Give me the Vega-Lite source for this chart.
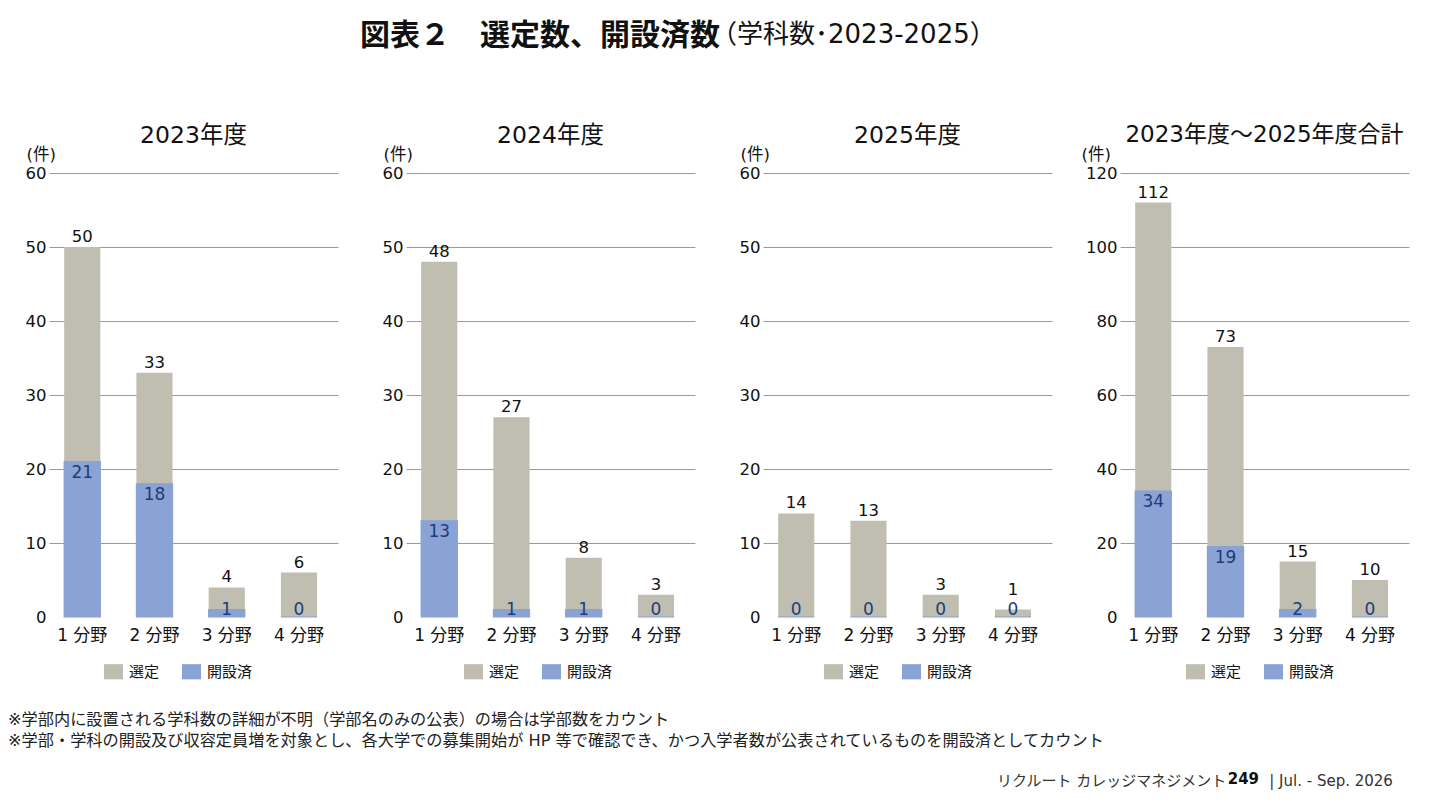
{
  "$schema": "https://vega.github.io/schema/vega-lite/v6.json",
  "background": "white",
  "padding": {"left": 8, "top": 20, "right": 20, "bottom": 6},
  "config": {
    "font": "DejaVu Sans, Noto Sans CJK JP",
    "view": {"stroke": null},
    "title": {"fontSize": 23.5, "fontWeight": "normal", "color": "#111", "offset": -1}
  },
  "title": {
    "text": "図表２　選定数、開設済数",
    "subtitle": "\u200B\u3000\u3000\u3000\u3000\u3000\u3000\u3000\u3000\u3000\u3000\u3000\u3000\u3000\u3000（学科数･2023-2025）",
    "anchor": "start",
    "frame": "bounds",
    "dx": 352,
    "fontSize": 30,
    "fontWeight": "bold",
    "color": "#111",
    "subtitleFontSize": 26,
    "subtitleFontWeight": "normal",
    "subtitleColor": "#111",
    "subtitlePadding": -29,
    "offset": 73
  },
  "data": {
    "values": [
      {"年度": "2023年度", "分野": "1 分野", "系列": "選定", "件数": 50},
      {"年度": "2023年度", "分野": "1 分野", "系列": "開設済", "件数": 21},
      {"年度": "2023年度", "分野": "2 分野", "系列": "選定", "件数": 33},
      {"年度": "2023年度", "分野": "2 分野", "系列": "開設済", "件数": 18},
      {"年度": "2023年度", "分野": "3 分野", "系列": "選定", "件数": 4},
      {"年度": "2023年度", "分野": "3 分野", "系列": "開設済", "件数": 1},
      {"年度": "2023年度", "分野": "4 分野", "系列": "選定", "件数": 6},
      {"年度": "2023年度", "分野": "4 分野", "系列": "開設済", "件数": 0},
      {"年度": "2024年度", "分野": "1 分野", "系列": "選定", "件数": 48},
      {"年度": "2024年度", "分野": "1 分野", "系列": "開設済", "件数": 13},
      {"年度": "2024年度", "分野": "2 分野", "系列": "選定", "件数": 27},
      {"年度": "2024年度", "分野": "2 分野", "系列": "開設済", "件数": 1},
      {"年度": "2024年度", "分野": "3 分野", "系列": "選定", "件数": 8},
      {"年度": "2024年度", "分野": "3 分野", "系列": "開設済", "件数": 1},
      {"年度": "2024年度", "分野": "4 分野", "系列": "選定", "件数": 3},
      {"年度": "2024年度", "分野": "4 分野", "系列": "開設済", "件数": 0},
      {"年度": "2025年度", "分野": "1 分野", "系列": "選定", "件数": 14},
      {"年度": "2025年度", "分野": "1 分野", "系列": "開設済", "件数": 0},
      {"年度": "2025年度", "分野": "2 分野", "系列": "選定", "件数": 13},
      {"年度": "2025年度", "分野": "2 分野", "系列": "開設済", "件数": 0},
      {"年度": "2025年度", "分野": "3 分野", "系列": "選定", "件数": 3},
      {"年度": "2025年度", "分野": "3 分野", "系列": "開設済", "件数": 0},
      {"年度": "2025年度", "分野": "4 分野", "系列": "選定", "件数": 1},
      {"年度": "2025年度", "分野": "4 分野", "系列": "開設済", "件数": 0},
      {"年度": "合計", "分野": "1 分野", "系列": "選定", "件数": 112},
      {"年度": "合計", "分野": "1 分野", "系列": "開設済", "件数": 34},
      {"年度": "合計", "分野": "2 分野", "系列": "選定", "件数": 73},
      {"年度": "合計", "分野": "2 分野", "系列": "開設済", "件数": 19},
      {"年度": "合計", "分野": "3 分野", "系列": "選定", "件数": 15},
      {"年度": "合計", "分野": "3 分野", "系列": "開設済", "件数": 2},
      {"年度": "合計", "分野": "4 分野", "系列": "選定", "件数": 10},
      {"年度": "合計", "分野": "4 分野", "系列": "開設済", "件数": 0}
    ]
  },
  "vconcat": [
    {
      "title": {
        "text": "リクルート カレッジマネジメント \u2007\u2007\u2007\u2008 | Jul. - Sep. 2026",
        "subtitle": "\u200B\u3000\u3000\u3000\u3000\u3000\u3000\u3000\u3000\u3000\u3000\u3000\u3000\u3000\u3000\u3000\u2008249",
        "orient": "bottom",
        "anchor": "start",
        "frame": "bounds",
        "dx": 989,
        "fontSize": 15,
        "fontWeight": "normal",
        "color": "#333",
        "subtitleFontSize": 15,
        "subtitleFontWeight": "bold",
        "subtitleColor": "#111",
        "subtitlePadding": -17.3,
        "offset": 25
      },
      "vconcat": [
        {
          "title": {
            "text": [
              "※学部内に設置される学科数の詳細が不明（学部名のみの公表）の場合は学部数をカウント",
              "※学部・学科の開設及び収容定員増を対象とし、各大学での募集開始が HP 等で確認でき、かつ入学者数が公表されているものを開設済としてカウント"
            ],
            "orient": "bottom",
            "anchor": "start",
            "frame": "bounds",
            "dx": -17,
            "fontSize": 16.2,
            "lineHeight": 21,
            "fontWeight": "normal",
            "color": "#222",
            "offset": 32
          },
          "bounds": "flush",
          "spacing": 68,
          "resolve": {"legend": {"color": "independent"}},
          "hconcat": [
            {
              "width": 289,
              "height": 444,
              "title": {"text": "2023年度"},
              "transform": [{"filter": "datum['年度'] === '2023年度'"}],
              "encoding": {
                "x": {
                  "field": "分野", "type": "nominal", "sort": null,
                  "scale": {"paddingInner": 0.5, "paddingOuter": 0.25, "align": 0.42},
                  "axis": {"title": null, "labelAngle": 0, "domain": false, "ticks": false, "labelPadding": 10, "labelFontSize": 17, "labelColor": "#111"}
                },
                "y": {
                  "field": "件数", "type": "quantitative", "stack": null,
                  "scale": {"domain": [0, 60]},
                  "axis": {
                    "title": "(件)", "titleAngle": 0, "titleAlign": "left", "titleBaseline": "middle",
                    "titleX": -23, "titleY": -19, "titleFontSize": 16.5, "titleFontWeight": "normal", "titleColor": "#111",
                    "values": [0, 10, 20, 30, 40, 50, 60],
                    "domain": false, "ticks": false, "labelPadding": 3, "labelFontSize": 16.5, "labelColor": "#111",
                    "gridColor": {"condition": {"test": "datum.value === 0", "value": "transparent"}, "value": "#9a9a9a"},
                    "gridWidth": 1.2
                  }
                }
              },
              "layer": [
                {
                  "transform": [{"filter": "datum['系列'] === '選定'"}],
                  "mark": {"type": "bar"},
                  "encoding": {"color": {"field": "系列", "type": "nominal", "scale": {"domain": ["選定", "開設済"], "range": ["#bfbeb0", "#8aa2d4"]},
                    "legend": {"orient": "none", "legendX": 55, "legendY": 489, "direction": "horizontal", "title": null, "symbolType": "M-1,-0.8H1V0.8H-1Z", "symbolSize": 361, "symbolStrokeWidth": 0, "labelFontSize": 15, "labelColor": "#111", "labelOffset": 6, "columnPadding": 22}}}
                },
                {
                  "transform": [{"filter": "datum['系列'] === '開設済'"}],
                  "mark": {"type": "bar", "stroke": "#8aa2d4", "strokeWidth": 1.2},
                  "encoding": {"color": {"field": "系列", "type": "nominal", "scale": {"domain": ["選定", "開設済"], "range": ["#bfbeb0", "#8aa2d4"]},
                    "legend": {"orient": "none", "legendX": 55, "legendY": 489, "direction": "horizontal", "title": null, "symbolType": "M-1,-0.8H1V0.8H-1Z", "symbolSize": 361, "symbolStrokeWidth": 0, "labelFontSize": 15, "labelColor": "#111", "labelOffset": 6, "columnPadding": 22}}}
                },
                {
                  "transform": [
                    {"filter": "datum['系列'] === '選定'"},
                    {"calculate": "max(datum['件数'], 2.3)", "as": "ラベル位置"}
                  ],
                  "mark": {"type": "text", "baseline": "bottom", "dy": -2, "fontSize": 16.5, "color": "#111"},
                  "encoding": {
                    "y": {"field": "ラベル位置", "type": "quantitative"},
                    "text": {"field": "件数", "type": "quantitative"}
                  }
                },
                {
                  "transform": [
                    {"filter": "datum['系列'] === '開設済'"},
                    {"calculate": "max(datum['件数'] - 1.55, 0.95)", "as": "ラベル位置"}
                  ],
                  "mark": {"type": "text", "baseline": "middle", "fontSize": 17, "color": "#1d3c7d"},
                  "encoding": {
                    "y": {"field": "ラベル位置", "type": "quantitative"},
                    "text": {"field": "件数", "type": "quantitative"}
                  }
                }
              ]
            },
            {
              "width": 289,
              "height": 444,
              "title": {"text": "2024年度"},
              "transform": [{"filter": "datum['年度'] === '2024年度'"}],
              "encoding": {
                "x": {
                  "field": "分野", "type": "nominal", "sort": null,
                  "scale": {"paddingInner": 0.5, "paddingOuter": 0.25, "align": 0.42},
                  "axis": {"title": null, "labelAngle": 0, "domain": false, "ticks": false, "labelPadding": 10, "labelFontSize": 17, "labelColor": "#111"}
                },
                "y": {
                  "field": "件数", "type": "quantitative", "stack": null,
                  "scale": {"domain": [0, 60]},
                  "axis": {
                    "title": "(件)", "titleAngle": 0, "titleAlign": "left", "titleBaseline": "middle",
                    "titleX": -23, "titleY": -19, "titleFontSize": 16.5, "titleFontWeight": "normal", "titleColor": "#111",
                    "values": [0, 10, 20, 30, 40, 50, 60],
                    "domain": false, "ticks": false, "labelPadding": 3, "labelFontSize": 16.5, "labelColor": "#111",
                    "gridColor": {"condition": {"test": "datum.value === 0", "value": "transparent"}, "value": "#9a9a9a"},
                    "gridWidth": 1.2
                  }
                }
              },
              "layer": [
                {
                  "transform": [{"filter": "datum['系列'] === '選定'"}],
                  "mark": {"type": "bar"},
                  "encoding": {"color": {"field": "系列", "type": "nominal", "scale": {"domain": ["選定", "開設済"], "range": ["#bfbeb0", "#8aa2d4"]},
                    "legend": {"orient": "none", "legendX": 58, "legendY": 489, "direction": "horizontal", "title": null, "symbolType": "M-1,-0.8H1V0.8H-1Z", "symbolSize": 361, "symbolStrokeWidth": 0, "labelFontSize": 15, "labelColor": "#111", "labelOffset": 6, "columnPadding": 22}}}
                },
                {
                  "transform": [{"filter": "datum['系列'] === '開設済'"}],
                  "mark": {"type": "bar", "stroke": "#8aa2d4", "strokeWidth": 1.2},
                  "encoding": {"color": {"field": "系列", "type": "nominal", "scale": {"domain": ["選定", "開設済"], "range": ["#bfbeb0", "#8aa2d4"]},
                    "legend": {"orient": "none", "legendX": 58, "legendY": 489, "direction": "horizontal", "title": null, "symbolType": "M-1,-0.8H1V0.8H-1Z", "symbolSize": 361, "symbolStrokeWidth": 0, "labelFontSize": 15, "labelColor": "#111", "labelOffset": 6, "columnPadding": 22}}}
                },
                {
                  "transform": [
                    {"filter": "datum['系列'] === '選定'"},
                    {"calculate": "max(datum['件数'], 2.3)", "as": "ラベル位置"}
                  ],
                  "mark": {"type": "text", "baseline": "bottom", "dy": -2, "fontSize": 16.5, "color": "#111"},
                  "encoding": {
                    "y": {"field": "ラベル位置", "type": "quantitative"},
                    "text": {"field": "件数", "type": "quantitative"}
                  }
                },
                {
                  "transform": [
                    {"filter": "datum['系列'] === '開設済'"},
                    {"calculate": "max(datum['件数'] - 1.55, 0.95)", "as": "ラベル位置"}
                  ],
                  "mark": {"type": "text", "baseline": "middle", "fontSize": 17, "color": "#1d3c7d"},
                  "encoding": {
                    "y": {"field": "ラベル位置", "type": "quantitative"},
                    "text": {"field": "件数", "type": "quantitative"}
                  }
                }
              ]
            },
            {
              "width": 289,
              "height": 444,
              "title": {"text": "2025年度"},
              "transform": [{"filter": "datum['年度'] === '2025年度'"}],
              "encoding": {
                "x": {
                  "field": "分野", "type": "nominal", "sort": null,
                  "scale": {"paddingInner": 0.5, "paddingOuter": 0.25, "align": 0.42},
                  "axis": {"title": null, "labelAngle": 0, "domain": false, "ticks": false, "labelPadding": 10, "labelFontSize": 17, "labelColor": "#111"}
                },
                "y": {
                  "field": "件数", "type": "quantitative", "stack": null,
                  "scale": {"domain": [0, 60]},
                  "axis": {
                    "title": "(件)", "titleAngle": 0, "titleAlign": "left", "titleBaseline": "middle",
                    "titleX": -23, "titleY": -19, "titleFontSize": 16.5, "titleFontWeight": "normal", "titleColor": "#111",
                    "values": [0, 10, 20, 30, 40, 50, 60],
                    "domain": false, "ticks": false, "labelPadding": 3, "labelFontSize": 16.5, "labelColor": "#111",
                    "gridColor": {"condition": {"test": "datum.value === 0", "value": "transparent"}, "value": "#9a9a9a"},
                    "gridWidth": 1.2
                  }
                }
              },
              "layer": [
                {
                  "transform": [{"filter": "datum['系列'] === '選定'"}],
                  "mark": {"type": "bar"},
                  "encoding": {"color": {"field": "系列", "type": "nominal", "scale": {"domain": ["選定", "開設済"], "range": ["#bfbeb0", "#8aa2d4"]},
                    "legend": {"orient": "none", "legendX": 61, "legendY": 489, "direction": "horizontal", "title": null, "symbolType": "M-1,-0.8H1V0.8H-1Z", "symbolSize": 361, "symbolStrokeWidth": 0, "labelFontSize": 15, "labelColor": "#111", "labelOffset": 6, "columnPadding": 22}}}
                },
                {
                  "transform": [{"filter": "datum['系列'] === '開設済'"}],
                  "mark": {"type": "bar", "stroke": "#8aa2d4", "strokeWidth": 1.2},
                  "encoding": {"color": {"field": "系列", "type": "nominal", "scale": {"domain": ["選定", "開設済"], "range": ["#bfbeb0", "#8aa2d4"]},
                    "legend": {"orient": "none", "legendX": 61, "legendY": 489, "direction": "horizontal", "title": null, "symbolType": "M-1,-0.8H1V0.8H-1Z", "symbolSize": 361, "symbolStrokeWidth": 0, "labelFontSize": 15, "labelColor": "#111", "labelOffset": 6, "columnPadding": 22}}}
                },
                {
                  "transform": [
                    {"filter": "datum['系列'] === '選定'"},
                    {"calculate": "max(datum['件数'], 2.3)", "as": "ラベル位置"}
                  ],
                  "mark": {"type": "text", "baseline": "bottom", "dy": -2, "fontSize": 16.5, "color": "#111"},
                  "encoding": {
                    "y": {"field": "ラベル位置", "type": "quantitative"},
                    "text": {"field": "件数", "type": "quantitative"}
                  }
                },
                {
                  "transform": [
                    {"filter": "datum['系列'] === '開設済'"},
                    {"calculate": "max(datum['件数'] - 1.55, 0.95)", "as": "ラベル位置"}
                  ],
                  "mark": {"type": "text", "baseline": "middle", "fontSize": 17, "color": "#1d3c7d"},
                  "encoding": {
                    "y": {"field": "ラベル位置", "type": "quantitative"},
                    "text": {"field": "件数", "type": "quantitative"}
                  }
                }
              ]
            },
            {
              "width": 289,
              "height": 444,
              "title": {"text": "2023年度～2025年度合計", "fontSize": 23},
              "transform": [{"filter": "datum['年度'] === '合計'"}],
              "encoding": {
                "x": {
                  "field": "分野", "type": "nominal", "sort": null,
                  "scale": {"paddingInner": 0.5, "paddingOuter": 0.25, "align": 0.42},
                  "axis": {"title": null, "labelAngle": 0, "domain": false, "ticks": false, "labelPadding": 10, "labelFontSize": 17, "labelColor": "#111"}
                },
                "y": {
                  "field": "件数", "type": "quantitative", "stack": null,
                  "scale": {"domain": [0, 120]},
                  "axis": {
                    "title": "(件)", "titleAngle": 0, "titleAlign": "left", "titleBaseline": "middle",
                    "titleX": -39, "titleY": -19, "titleFontSize": 16.5, "titleFontWeight": "normal", "titleColor": "#111",
                    "values": [0, 20, 40, 60, 80, 100, 120],
                    "domain": false, "ticks": false, "labelPadding": 3, "labelFontSize": 16.5, "labelColor": "#111",
                    "gridColor": {"condition": {"test": "datum.value === 0", "value": "transparent"}, "value": "#9a9a9a"},
                    "gridWidth": 1.2
                  }
                }
              },
              "layer": [
                {
                  "transform": [{"filter": "datum['系列'] === '選定'"}],
                  "mark": {"type": "bar"},
                  "encoding": {"color": {"field": "系列", "type": "nominal", "scale": {"domain": ["選定", "開設済"], "range": ["#bfbeb0", "#8aa2d4"]},
                    "legend": {"orient": "none", "legendX": 66, "legendY": 489, "direction": "horizontal", "title": null, "symbolType": "M-1,-0.8H1V0.8H-1Z", "symbolSize": 361, "symbolStrokeWidth": 0, "labelFontSize": 15, "labelColor": "#111", "labelOffset": 6, "columnPadding": 22}}}
                },
                {
                  "transform": [{"filter": "datum['系列'] === '開設済'"}],
                  "mark": {"type": "bar", "stroke": "#8aa2d4", "strokeWidth": 1.2},
                  "encoding": {"color": {"field": "系列", "type": "nominal", "scale": {"domain": ["選定", "開設済"], "range": ["#bfbeb0", "#8aa2d4"]},
                    "legend": {"orient": "none", "legendX": 66, "legendY": 489, "direction": "horizontal", "title": null, "symbolType": "M-1,-0.8H1V0.8H-1Z", "symbolSize": 361, "symbolStrokeWidth": 0, "labelFontSize": 15, "labelColor": "#111", "labelOffset": 6, "columnPadding": 22}}}
                },
                {
                  "transform": [{"filter": "datum['系列'] === '選定'"}],
                  "mark": {"type": "text", "baseline": "bottom", "dy": -2, "fontSize": 16.5, "color": "#111"},
                  "encoding": {"text": {"field": "件数", "type": "quantitative"}}
                },
                {
                  "transform": [
                    {"filter": "datum['系列'] === '開設済'"},
                    {"calculate": "max(datum['件数'] - 3.0, 1.9)", "as": "ラベル位置"}
                  ],
                  "mark": {"type": "text", "baseline": "middle", "fontSize": 17, "color": "#1d3c7d"},
                  "encoding": {
                    "y": {"field": "ラベル位置", "type": "quantitative"},
                    "text": {"field": "件数", "type": "quantitative"}
                  }
                }
              ]
            }
          ]
        }
      ]
    }
  ]
}
